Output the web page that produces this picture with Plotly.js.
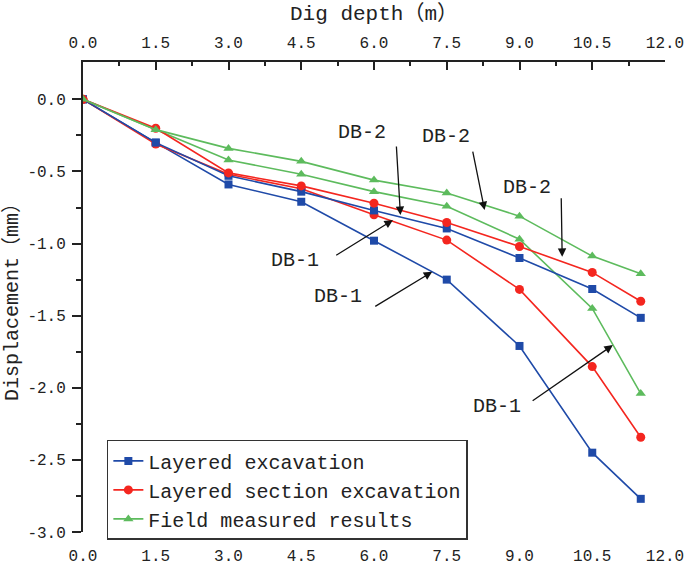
<!DOCTYPE html>
<html>
<head>
<meta charset="utf-8">
<script src="https://cdn.plot.ly/plotly-3.0.1.min.js"></script>
<style>
  html, body { margin: 0; padding: 0; background: #fff; }
  #chart { width: 685px; height: 566px; }
</style>
</head>
<body>
<div id="chart"></div>
<script>
"use strict"

// dig depth (m)
var depth = [0, 1.5, 3.0, 4.5, 6.0, 7.5, 9.0, 10.5, 11.5];

// displacement (mm)
var layeredDB1 = [0, -0.30, -0.59, -0.71, -0.98, -1.25, -1.71, -2.45, -2.77];
var layeredDB2 = [0, -0.30, -0.53, -0.64, -0.77, -0.895, -1.10, -1.315, -1.515];
var sectionDB1 = [0, -0.31, -0.52, -0.62, -0.80, -0.976, -1.318, -1.853, -2.343];
var sectionDB2 = [0, -0.20, -0.51, -0.60, -0.72, -0.854, -1.02, -1.20, -1.40];
var fieldDB1 = [0, -0.21, -0.42, -0.52, -0.64, -0.741, -0.97, -1.45, -2.04];
var fieldDB2 = [0, -0.21, -0.34, -0.43, -0.56, -0.649, -0.81, -1.087, -1.21];

var xTicks = [0, 1.5, 3.0, 4.5, 6.0, 7.5, 9.0, 10.5, 12.0];
var xTickText = ['0.0', '1.5', '3.0', '4.5', '6.0', '7.5', '9.0', '10.5', '12.0'];
var yTicks = [0, -0.5, -1.0, -1.5, -2.0, -2.5, -3.0];
var yTickText = ['0.0', '-0.5', '-1.0', '-1.5', '-2.0', '-2.5', '-3.0'];

// label text, label position, arrow tail, arrow head (data units)
var labels = [
	{text: 'DB-2', lx: 5.75, ly: -0.227, tx: 6.46, ty: -0.317, hx: 6.545, hy: -0.802},
	{text: 'DB-2', lx: 7.48, ly: -0.261, tx: 8.03, ty: -0.352, hx: 8.28, hy: -0.768},
	{text: 'DB-2', lx: 9.15, ly: -0.608, tx: 9.86, ty: -0.675, hx: 9.88, hy: -1.092},
	{text: 'DB-1', lx: 4.37, ly: -1.114, tx: 5.19, ty: -1.087, hx: 6.39, hy: -0.837},
	{text: 'DB-1', lx: 5.25, ly: -1.37, tx: 5.995, ty: -1.442, hx: 7.20, hy: -1.196},
	{text: 'DB-1', lx: 8.53, ly: -2.133, tx: 9.24, ty: -2.097, hx: 10.925, hy: -1.704}
];

var FONT = 'Liberation Mono, Noto Sans CJK SC, monospace';
var blue = '#1f4aa8', red = '#f4261f', green = '#5dbb5d';

function series(y, name, color, symbol, size, showleg){
	return {
		x: depth,
		y: y,
		name: name,
		type: 'scatter',
		mode: 'lines+markers',
		line: {color: color, width: 1.6},
		marker: {color: color, symbol: symbol, size: size},
		showlegend: showleg,
		legendgroup: name
	};
}

var data = [
	series(layeredDB1, 'Layered excavation', blue, 'square', 8, true),
	series(sectionDB1, 'Layered section excavation', red, 'circle', 9, true),
	series(fieldDB1, 'Field measured results', green, 'triangle-up', 9, true),
	series(layeredDB2, 'Layered excavation', blue, 'square', 8, false),
	series(sectionDB2, 'Layered section excavation', red, 'circle', 9, false),
	series(fieldDB2, 'Field measured results', green, 'triangle-up', 9, false)
];

var annotations = [];
labels.forEach(function(l){
	annotations.push({
		x: l.lx, y: l.ly, xref: 'x', yref: 'y',
		text: l.text, showarrow: false,
		font: {family: FONT, size: 20, color: '#222'}
	});
	annotations.push({
		x: l.hx, y: l.hy, ax: l.tx, ay: l.ty,
		xref: 'x', yref: 'y', axref: 'x', ayref: 'y',
		text: '', showarrow: true,
		arrowhead: 2, arrowsize: 1.3, arrowwidth: 1.3, arrowcolor: '#111'
	});
});

var layout = {
	width: 685,
	height: 566,
	margin: {l: 83, r: 20, t: 62, b: 34, pad: 0},
	paper_bgcolor: '#fff',
	plot_bgcolor: '#fff',
	font: {family: FONT, size: 16, color: '#222'},
	showlegend: true,
	legend: {
		x: 0.041, y: 0.196, xanchor: 'left', yanchor: 'top',
		bgcolor: 'rgba(255,255,255,0)',
		bordercolor: '#333', borderwidth: 1.5,
		font: {family: FONT, size: 20, color: '#222'},
		tracegroupgap: 0
	},
	xaxis: {
		range: [0, 12],
		tickvals: xTicks, ticktext: xTickText,
		showline: false, showgrid: false, zeroline: false,
		ticks: 'outside', ticklen: 9, tickcolor: 'rgba(0,0,0,0)',
		tickfont: {family: FONT, size: 16, color: '#222'}
	},
	xaxis2: {
		overlaying: 'x', side: 'top', anchor: 'y',
		range: [0, 12],
		tickvals: xTicks, ticktext: xTickText,
		showline: true, linecolor: '#222', linewidth: 2,
		showgrid: false, zeroline: false,
		ticks: 'inside', ticklen: 8, tickwidth: 2, tickcolor: '#222',
		minor: {tickvals: [0.75, 2.25, 3.75, 5.25, 6.75, 8.25, 9.75, 11.25], ticks: 'inside', ticklen: 4, tickwidth: 2, tickcolor: '#222'},
		tickfont: {family: FONT, size: 16, color: '#222'},
		ticklabelstandoff: 6,
		title: {text: 'Dig depth（m）', font: {family: FONT, size: 21, color: '#222'}, standoff: 8}
	},
	yaxis: {
		range: [-3.0, 0.259],
		tickvals: yTicks, ticktext: yTickText,
		showline: true, linecolor: '#222', linewidth: 2,
		showgrid: false, zeroline: false,
		ticks: 'outside', ticklen: 9, tickwidth: 2, tickcolor: '#222',
		minor: {tickvals: [-0.25, -0.75, -1.25, -1.75, -2.25, -2.75], ticks: 'outside', ticklen: 5, tickwidth: 2, tickcolor: '#222'},
		tickfont: {family: FONT, size: 16, color: '#222'},
		ticklabelstandoff: 3,
		title: {text: 'Displacement（mm）', font: {family: FONT, size: 20, color: '#222'}, standoff: 4}
	},
	annotations: annotations
};

// invisible trace so the top axis is drawn
data.push({x: [0, 12], y: [0, 0], xaxis: 'x2', yaxis: 'y', mode: 'none', showlegend: false, hoverinfo: 'skip', type: 'scatter'});

Plotly.newPlot('chart', data, layout, {staticPlot: true});
</script>
</body>
</html>
